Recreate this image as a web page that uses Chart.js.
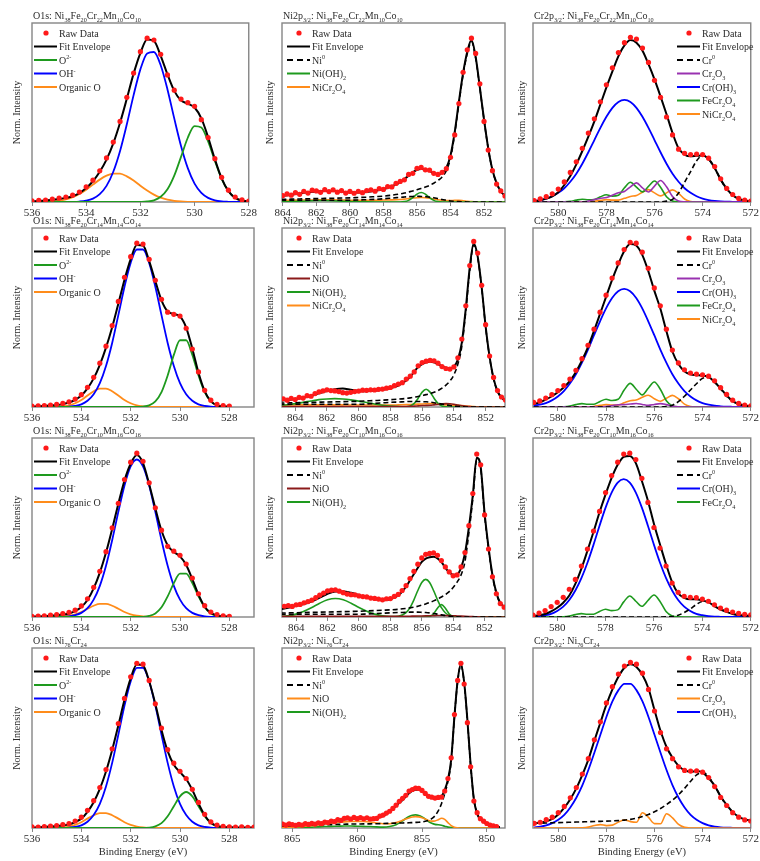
<!DOCTYPE html>
<html>
<head>
<meta charset="utf-8">
<script src="https://cdn.jsdelivr.net/npm/chart.js@4.4.1/dist/chart.umd.min.js"></script>
<style>
  html, body { margin: 0; padding: 0; background: #fff; }
  #fig { position: relative; width: 760px; height: 861px; overflow: hidden; background: #fff; }
  #fig canvas { position: absolute; }
</style>
</head>
<body>
<div id="fig"></div>
<script>
// ---- energy grids (eV) ----
const o1sE = [536, 535.75, 535.5, 535.25, 535, 534.75, 534.5, 534.25, 534, 533.75, 533.5, 533.25, 533, 532.75, 532.5, 532.25, 532, 531.75, 531.5, 531.25, 531, 530.75, 530.5, 530.25, 530, 529.75, 529.5, 529.25, 529, 528.75, 528.5, 528.25, 528, 527.75, 527.5, 527.25, 527];
const cr2pE = [581, 580.75, 580.5, 580.25, 580, 579.75, 579.5, 579.25, 579, 578.75, 578.5, 578.25, 578, 577.75, 577.5, 577.25, 577, 576.75, 576.5, 576.25, 576, 575.75, 575.5, 575.25, 575, 574.75, 574.5, 574.25, 574, 573.75, 573.5, 573.25, 573, 572.75, 572.5, 572.25, 572];
const ni2pE = [866, 865.5, 865, 864.5, 864, 863.5, 863, 862.5, 862, 861.5, 861, 860.5, 860, 859.5, 859, 858.5, 858, 857.5, 857, 856.75, 856.5, 856.25, 856, 855.75, 855.5, 855.25, 855, 854.75, 854.5, 854.25, 854, 853.75, 853.5, 853.25, 853, 852.75, 852.5, 852.25, 852, 851.75, 851.5, 851.25, 851, 850.75, 850.5, 850, 849.5, 849];
const ni2pRawE = [865.75, 865.5, 865.25, 865, 864.75, 864.5, 864.25, 864, 863.75, 863.5, 863.25, 863, 862.75, 862.5, 862.25, 862, 861.75, 861.5, 861.25, 861, 860.75, 860.5, 860.25, 860, 859.75, 859.5, 859.25, 859, 858.75, 858.5, 858.25, 858, 857.75, 857.5, 857.25, 857, 856.75, 856.5, 856.25, 856, 855.75, 855.5, 855.25, 855, 854.75, 854.5, 854.25, 854, 853.75, 853.5, 853.25, 853, 852.75, 852.5, 852.25, 852, 851.75, 851.5, 851.25, 851, 850.75, 850.5, 850.25, 850, 849.75, 849.5, 849.25];

// ---- O1s (norm. intensity, % of frame height) ----
const o1Raw1 = [0.6, 0.9, 1.1, 1.6, 2.2, 2.8, 3.8, 5.6, 8.4, 12.2, 17.4, 24.6, 33.5, 45.0, 58.5, 72.0, 84.0, 91.5, 90.5, 82.5, 71.0, 62.5, 57.5, 55.5, 53.5, 46.0, 36.0, 24.2, 13.8, 6.6, 2.8, 1.2, 0.5];
const o1Fit1 = [0.4, 0.6, 0.9, 1.3, 1.7, 2.3, 3.2, 5.0, 7.8, 11.6, 16.9, 23.7, 32.8, 44.3, 57.7, 71.7, 83.2, 90.8, 90.0, 81.7, 71.3, 62.1, 56.8, 54.9, 52.8, 46.7, 36.2, 23.9, 13.2, 6.1, 2.3, 0.8, 0.3];
const o1O2m1 = [0, 0, 0, 0, 0, 0, 0, 0, 0, 0, 0, 0, 0, 0, 0, 0, 0.06, 0.27, 0.96, 2.9, 7.1, 14.7, 25.2, 35.9, 42.4, 41.6, 33.9, 23.0, 12.9, 6.0, 2.3, 0.75, 0.2];
const o1OH1 = [0, 0, 0, 0, 0.01, 0.02, 0.08, 0.26, 0.75, 1.9, 4.4, 9.0, 16.9, 28.5, 43.4, 59.7, 74.1, 83.0, 83.8, 76.4, 62.9, 46.7, 31.3, 18.9, 10.3, 5.1, 2.3, 0.9, 0.3, 0.1, 0, 0, 0];
const o1Org1 = [0.02, 0.06, 0.15, 0.35, 0.76, 1.5, 2.7, 4.5, 6.9, 9.7, 12.5, 14.7, 15.9, 15.8, 14.3, 12.0, 9.1, 6.4, 4.1, 2.4, 1.3, 0.65, 0.3, 0.12, 0.05, 0, 0, 0, 0, 0, 0, 0, 0];

const o1Raw2 = [0.5, 0.6, 0.8, 1.1, 1.5, 2.0, 2.9, 4.4, 6.9, 11.0, 16.6, 24.5, 34.0, 45.5, 59.0, 72.5, 84.0, 91.5, 91.0, 82.5, 70.8, 60.2, 53.0, 51.8, 50.8, 44.0, 32.4, 19.6, 9.3, 3.8, 1.5, 0.8, 0.5];
const o1Fit2 = [0.3, 0.4, 0.6, 0.8, 1.1, 1.6, 2.5, 4.0, 6.4, 10.4, 16.0, 23.6, 33.2, 44.6, 57.7, 71.1, 82.6, 90.5, 90.2, 81.5, 70.3, 59.6, 53.4, 52.0, 50.6, 44.4, 32.6, 19.1, 8.9, 3.3, 0.9, 0.4, 0.3];
const o1O2m2 = [0, 0, 0, 0, 0, 0, 0, 0, 0, 0, 0, 0, 0, 0, 0, 0, 0, 0, 0.2, 0.9, 3.1, 8.3, 17.6, 29.1, 37.3, 37.3, 29.1, 17.6, 8.3, 3.1, 0.9, 0.2, 0];
const o1OH2 = [0, 0, 0, 0, 0, 0.05, 0.2, 0.6, 1.5, 3.5, 7.1, 13.3, 22.9, 35.8, 51.3, 67.2, 80.5, 88.0, 88.0, 80.5, 67.2, 51.3, 35.8, 22.9, 13.3, 7.1, 3.5, 1.5, 0.6, 0.2, 0.05, 0, 0];
const o1Org2 = [0, 0, 0, 0.05, 0.1, 0.4, 0.9, 2.1, 3.9, 6.4, 8.8, 10.3, 10.3, 8.8, 6.4, 3.9, 2.1, 0.9, 0.4, 0.1, 0, 0, 0, 0, 0, 0, 0, 0, 0, 0, 0, 0, 0];

const o1Raw3 = [0.4, 0.5, 0.7, 1.0, 1.4, 1.9, 2.6, 3.8, 6.2, 10.2, 16.6, 25.5, 36.5, 49.8, 63.5, 76.8, 86.5, 91.5, 87.0, 75.0, 61.0, 48.5, 39.5, 36.8, 34.5, 29.6, 21.8, 13.0, 6.3, 2.8, 1.4, 0.7, 0.4];
const o1Fit3 = [0.2, 0.3, 0.5, 0.7, 1.0, 1.4, 2.0, 3.3, 5.6, 9.5, 16.0, 24.8, 36.0, 49.2, 63.3, 76.3, 85.6, 90.5, 86.0, 74.2, 60.7, 48.3, 40.1, 36.3, 33.9, 29.1, 21.2, 12.5, 5.75, 2.3, 0.9, 0.4, 0.3];
const o1O2m3 = [0, 0, 0, 0, 0, 0, 0, 0, 0, 0, 0, 0, 0, 0, 0, 0, 0, 0, 0.1, 0.6, 2.0, 5.4, 11.5, 18.9, 24.2, 24.2, 18.9, 11.5, 5.4, 2.0, 0.6, 0.1, 0];
const o1OH3 = [0, 0, 0, 0, 0, 0.05, 0.35, 1.0, 2.3, 4.9, 9.7, 17.4, 28.6, 42.9, 58.7, 73.5, 84.1, 88.0, 84.1, 73.5, 58.7, 42.9, 28.6, 17.4, 9.7, 4.9, 2.3, 1.0, 0.35, 0.1, 0, 0, 0];
const o1Org3 = [0, 0, 0, 0.03, 0.1, 0.3, 0.7, 1.5, 2.8, 4.6, 6.3, 7.35, 7.35, 6.3, 4.6, 2.8, 1.5, 0.7, 0.3, 0.1, 0, 0, 0, 0, 0, 0, 0, 0, 0, 0, 0, 0, 0];

const o1Raw4 = [0.6, 0.5, 0.8, 1.0, 1.4, 1.9, 2.5, 3.9, 6.0, 9.8, 15.2, 22.5, 32.5, 44.0, 58.0, 72.0, 84.0, 91.5, 91.0, 82.0, 69.0, 55.5, 43.5, 36.0, 31.5, 27.5, 21.5, 14.2, 7.6, 3.4, 1.6, 0.9, 0.6, 0.5, 0.7, 0.4, 0.5];
const o1Fit4 = [0.3, 0.4, 0.6, 0.8, 1.1, 1.4, 2.0, 3.3, 5.2, 9.0, 14.3, 21.7, 31.4, 43.3, 57.0, 71.2, 83.1, 90.8, 90.3, 81.5, 68.9, 54.5, 42.7, 35.2, 31.0, 27.2, 21.1, 13.6, 7.1, 2.9, 1.1, 0.5, 0.4, 0.3, 0.3, 0.3, 0.3];
const o1O2m4 = [0, 0, 0, 0, 0, 0, 0, 0, 0, 0, 0, 0, 0, 0, 0, 0, 0, 0, 0, 0.2, 0.9, 2.7, 6.5, 12.1, 17.6, 20.0, 17.6, 12.1, 6.5, 2.7, 0.9, 0.2, 0, 0, 0, 0, 0];
const o1OH4 = [0, 0, 0, 0, 0, 0.05, 0.2, 0.6, 1.5, 3.5, 7.2, 13.4, 23.1, 36.2, 51.8, 68.0, 81.4, 89.0, 89.0, 81.4, 68.0, 51.8, 36.2, 23.1, 13.4, 7.2, 3.5, 1.5, 0.6, 0.2, 0.05, 0, 0, 0, 0, 0, 0];
const o1Org4 = [0, 0, 0, 0.03, 0.1, 0.3, 0.8, 1.7, 3.2, 5.2, 7.1, 8.3, 8.3, 7.1, 5.2, 3.2, 1.7, 0.8, 0.3, 0.1, 0, 0, 0, 0, 0, 0, 0, 0, 0, 0, 0, 0, 0, 0, 0, 0, 0];

// ---- Ni2p3/2 ----
const niRaw1 = [null, null, null, null, null, null, null, 3.6, 4.5, 3.8, 5.2, 4.3, 6.0, 5.0, 6.6, 6.2, 5.4, 6.9, 5.8, 6.8, 5.5, 6.4, 5.0, 5.9, 4.9, 6.0, 5.2, 6.4, 6.8, 6.0, 7.5, 7.0, 8.6, 8.4, 10.4, 11.5, 12.4, 15.4, 16.0, 18.8, 19.3, 18.0, 17.8, 16.0, 15.4, 16.6, 18.6, 25, 37.5, 55, 72.5, 85, 91.5, 83, 66, 45, 29, 17.5, 10, 6.2, 3.4, null, null, null, null, null, null];
const niFit1 = [3.0, 3.1, 3.2, 3.3, 3.4, 4.0, 4.8, 5.4, 5.8, 6.1, 6.2, 5.8, 5.4, 5.3, 5.6, 6.3, 7.2, 8.8, 11.0, 12.8, 14.7, 16.5, 18.0, 18.5, 18.3, 17.3, 16.2, 15.6, 16.2, 19, 26, 39, 56, 72, 84, 90.5, 81, 64, 46, 30, 18, 10.5, 6, 3.5, 2.2, 1, 0.5, 0.3];
const niNi0_1 = [1.4, 1.4, 1.5, 1.5, 1.5, 1.6, 1.7, 1.8, 1.9, 2.0, 2.1, 2.2, 2.3, 2.5, 2.7, 3.0, 3.3, 3.8, 4.5, 5.0, 5.6, 6.2, 6.9, 7.6, 8.4, 9.3, 10.5, 12.0, 14.0, 17.5, 24.5, 38, 55, 71, 83, 89.5, 80.5, 63.5, 45.8, 29.8, 17.9, 10.4, 5.9, 3.4, 2.1, 1, 0.5, 0.3];
const niSat1 = [1.0, 1.0, 1.0, 1.0, 1.0, 1.0, 1.0, 1.0, 1.0, 1.0, 1.0, 1.0, 1.0, 1.1, 1.3, 1.5, 1.8, 2.2, 2.6, 2.8, 3.0, 3.1, 3.2, 3.1, 3.0, 2.7, 2.4, 1.9, 1.4, 1.0, 0.6, 0.4, 0.2, 0.1, 0, 0, 0, 0, 0, 0, 0, 0, 0, 0, 0, 0, 0, 0];
const niOH1 = [0, 0, 0, 0, 0.1, 0.2, 0.4, 0.6, 0.8, 0.8, 0.7, 0.5, 0.3, 0.15, 0.05, 0, 0, 0, 0, 0.2, 0.9, 2.4, 4.4, 5.3, 4.4, 2.4, 0.9, 0.2, 0, 0, 0, 0, 0, 0, 0, 0, 0, 0, 0, 0, 0, 0, 0, 0, 0, 0, 0, 0];
const niCrO1 = [0.8, 0.8, 0.9, 0.9, 1.0, 1.0, 1.1, 1.1, 1.2, 1.2, 1.2, 1.1, 1.0, 1.0, 1.0, 1.0, 1.1, 1.2, 1.4, 1.6, 1.9, 2.2, 2.4, 2.5, 2.4, 2.1, 1.7, 1.3, 1.0, 0.8, 0.8, 0.9, 0.9, 0.7, 0.4, 0.2, 0.1, 0, 0, 0, 0, 0, 0, 0, 0, 0, 0, 0];

const niRaw2 = [null, null, null, null, 4.6, 3.8, 4.9, 4.2, 5.4, 5.0, 6.3, 6.0, 7.5, 8.4, 9.0, 9.6, 9.2, 9.0, 8.6, 8.0, 7.8, 8.2, 8.6, 8.9, 9.4, 9.3, 9.6, 9.5, 9.9, 10.0, 10.5, 10.9, 11.9, 12.8, 13.6, 15.6, 17.2, 19.6, 23.0, 24.8, 25.6, 26.0, 25.8, 24.5, 22.6, 21.5, 21.2, 22.4, 27.5, 38, 56.5, 79, 92.5, 86, 68, 46, 28.5, 16.5, 9.2, 5.6, 3.8, null, null, null, null, null, null];
const niFit2 = [3.0, 3.2, 3.5, 3.9, 4.5, 5.2, 6.3, 7.6, 8.9, 9.9, 10.3, 9.6, 9.0, 8.8, 9.1, 9.6, 10.5, 12.0, 14.8, 16.8, 19.8, 22.3, 24.0, 25.0, 25.3, 25.0, 24.0, 22.8, 21.8, 21.5, 22.5, 26.5, 36, 55, 78, 91.5, 84, 67, 45, 28, 16, 8.8, 5.3, 3.6, 2.6, 1.5, 0.8, 0.5];
const niNi0_2 = [2.0, 2.1, 2.2, 2.3, 2.4, 2.5, 2.6, 2.7, 2.8, 2.9, 3.0, 3.1, 3.2, 3.4, 3.6, 3.8, 4.1, 4.4, 4.8, 5.1, 5.5, 5.9, 6.4, 6.9, 7.5, 8.2, 9.2, 10.5, 12.2, 14.5, 18, 24, 34, 53.5, 76.5, 90.5, 83.3, 66.5, 44.6, 27.7, 15.8, 8.7, 5.2, 3.5, 2.5, 1.4, 0.8, 0.5];
const niSat2 = [1.5, 1.5, 1.5, 1.5, 1.5, 1.5, 1.5, 1.5, 1.5, 1.5, 1.5, 1.5, 1.5, 1.7, 2.0, 2.3, 2.6, 2.8, 3.0, 3.1, 3.1, 3.1, 3.0, 2.9, 2.7, 2.4, 2.0, 1.6, 1.2, 0.8, 0.5, 0.3, 0.1, 0, 0, 0, 0, 0, 0, 0, 0, 0, 0, 0, 0, 0, 0, 0];
const niNiO2 = [0.3, 0.3, 0.3, 0.3, 0.3, 0.3, 0.3, 0.3, 0.3, 0.3, 0.3, 0.3, 0.3, 0.3, 0.3, 0.3, 0.3, 0.3, 0.3, 0.4, 0.5, 0.65, 0.8, 0.9, 1.0, 1.2, 1.4, 1.7, 1.9, 1.8, 1.5, 1.1, 0.7, 0.4, 0.2, 0, 0, 0, 0, 0, 0, 0, 0, 0, 0, 0, 0, 0];
const niOH2 = [0.4, 0.6, 0.9, 1.3, 1.9, 2.6, 3.4, 4.1, 4.5, 4.7, 4.5, 4.0, 3.3, 2.5, 1.7, 1.0, 0.5, 0.2, 0.1, 0.6, 2.0, 4.9, 8.3, 9.9, 8.3, 4.9, 2.0, 0.6, 0.1, 0, 0, 0, 0, 0, 0, 0, 0, 0, 0, 0, 0, 0, 0, 0, 0, 0, 0, 0];
const niCrO2 = [1.0, 1.0, 1.1, 1.1, 1.2, 1.2, 1.2, 1.2, 1.2, 1.2, 1.2, 1.1, 1.1, 1.1, 1.1, 1.1, 1.1, 1.2, 1.3, 1.4, 1.5, 1.6, 1.7, 1.8, 1.9, 1.8, 1.6, 1.4, 1.2, 1.1, 1.0, 0.9, 0.8, 0.6, 0.4, 0.2, 0.1, 0, 0, 0, 0, 0, 0, 0, 0, 0, 0, 0];

const niRaw3 = [null, null, null, null, 6.0, 6.4, 5.9, 6.8, 7.0, 7.9, 8.6, 9.4, 10.8, 12.2, 13.4, 14.6, 15.0, 15.2, 14.4, 13.6, 12.8, 12.5, 12.4, 11.8, 11.4, 11.2, 10.6, 10.4, 10.0, 9.6, 10.2, 10.3, 11.5, 12.6, 14.8, 17.5, 21.5, 25.5, 29.5, 33.0, 35.0, 35.5, 35.8, 34.5, 31.5, 28.0, 25.2, 23.0, 23.5, 28, 36, 51, 69, 91, 85, 57, 38, 22.5, 13, 7.5, 5.5, null, null, null, null, null, null];
const niFit3 = [3.5, 3.9, 4.4, 5.1, 6.2, 7.3, 8.8, 10.8, 13.0, 14.3, 14.3, 13.5, 12.2, 11.0, 10.0, 9.4, 9.9, 12.0, 17.0, 20.5, 24.0, 27.5, 30.8, 32.6, 33.4, 33.6, 32.8, 30.8, 27.5, 25.0, 23.6, 23.8, 27.5, 35.5, 50, 68, 89, 84, 58, 39, 23.5, 13.5, 7.8, 5.8, 4.2, 2.5, 1.5, 1.0];
const niNi0_3 = [2.0, 2.1, 2.2, 2.3, 2.4, 2.5, 2.6, 2.7, 2.8, 2.9, 3.0, 3.1, 3.2, 3.4, 3.6, 3.8, 4.0, 4.3, 4.8, 5.1, 5.5, 6.0, 6.6, 7.3, 8.1, 9.0, 10.0, 11.2, 12.5, 14.2, 16.5, 19.5, 23.5, 31, 47, 66, 87.5, 83, 57, 38.2, 23, 13.2, 7.6, 5.6, 4.1, 2.4, 1.4, 0.9];
const niSat3 = [1.5, 1.5, 1.5, 1.5, 1.5, 1.5, 1.5, 1.5, 1.5, 1.5, 1.5, 1.5, 1.5, 1.7, 1.9, 2.1, 2.3, 2.5, 2.6, 2.7, 2.7, 2.7, 2.6, 2.5, 2.3, 2.0, 1.6, 1.2, 0.8, 0.5, 0.3, 0.1, 0, 0, 0, 0, 0, 0, 0, 0, 0, 0, 0, 0, 0, 0, 0, 0];
const niNiO3 = [0.4, 0.4, 0.4, 0.4, 0.4, 0.4, 0.4, 0.4, 0.4, 0.4, 0.4, 0.4, 0.4, 0.4, 0.4, 0.4, 0.4, 0.4, 0.4, 0.45, 0.5, 0.55, 0.6, 0.65, 0.7, 0.75, 0.8, 0.8, 0.8, 0.75, 0.7, 0.6, 0.5, 0.4, 0.3, 0.2, 0.1, 0, 0, 0, 0, 0, 0, 0, 0, 0, 0, 0];
const niOH3 = [0, 0.1, 0.3, 0.7, 1.6, 3.2, 5.3, 7.7, 9.6, 10.3, 9.6, 7.7, 5.3, 3.2, 1.6, 0.7, 0.3, 0.4, 2.4, 5.2, 9.6, 14.8, 19.3, 21, 19.3, 14.8, 9.6, 5.2, 2.4, 0.9, 0.3, 0.1, 0, 0, 0, 0, 0, 0, 0, 0, 0, 0, 0, 0, 0, 0, 0, 0];
const niOHb3 = [0, 0, 0, 0, 0, 0, 0, 0, 0, 0, 0, 0, 0, 0, 0, 0, 0, 0, 0, 0, 0, 0, 0, 0, 0.3, 1.7, 4.9, 6.9, 4.9, 1.7, 0.3, 0, 0, 0, 0, 0, 0, 0, 0, 0, 0, 0, 0, 0, 0, 0, 0, 0];

const niRaw4 = [2.2, 1.6, 2.3, 1.9, 1.5, 2.0, 1.6, 2.4, 2.0, 2.6, 2.2, 2.9, 2.4, 3.3, 3.0, 3.9, 3.5, 4.6, 4.2, 5.4, 5.6, 5.0, 5.9, 5.2, 5.8, 5.1, 5.7, 5.0, 5.2, 5.3, 6.6, 7.2, 8.3, 9.3, 10.9, 12.7, 14.8, 16.5, 18.2, 20.5, 21.4, 22.2, 22.0, 20.9, 19.2, 17.6, 17.1, 16.6, 17.0, 17.2, 20.5, 27.5, 39, 63, 82, 91.5, 80, 58.5, 34, 15, 8.5, 5.2, 3.8, 2.5, 1.6, 1.2, 0.8];
const niFit4 = [1.2, 1.4, 1.7, 1.8, 2.0, 2.2, 2.5, 2.9, 3.3, 4.0, 4.8, 5.1, 5.4, 5.4, 5.4, 5.6, 6.6, 9.0, 12.3, 14.0, 15.5, 17.5, 19.3, 20.6, 21.3, 21.2, 20.3, 19.0, 17.8, 17.0, 16.8, 16.8, 17.5, 21, 27, 38, 62, 82, 91, 81, 60, 35, 16, 8, 5, 2.2, 0.9, 0.5];
const niNi0_4 = [1.2, 1.2, 1.3, 1.4, 1.5, 1.6, 1.7, 1.8, 1.9, 2.0, 2.1, 2.2, 2.2, 2.3, 2.3, 2.4, 2.5, 2.6, 2.7, 2.8, 2.8, 2.85, 2.9, 3.0, 3.1, 3.2, 3.4, 3.7, 4.2, 5.2, 6.8, 9.5, 13.5, 19, 26, 37, 61.5, 81.5, 90.5, 80.5, 59.8, 34.8, 15.9, 7.9, 4.9, 2.1, 0.9, 0.5];
const niNiO4 = [0.3, 0.4, 0.5, 0.7, 1.0, 1.3, 1.7, 2.2, 2.7, 3.1, 3.4, 3.6, 3.7, 3.6, 3.3, 2.8, 2.4, 2.4, 3.0, 3.6, 4.3, 5.0, 5.6, 6.1, 6.3, 6.2, 5.7, 5.0, 4.2, 3.8, 3.9, 4.6, 5.4, 4.8, 3.0, 1.3, 0.4, 0.1, 0, 0, 0, 0, 0, 0, 0, 0, 0, 0];
const niOH4 = [0.2, 0.2, 0.3, 0.3, 0.4, 0.5, 0.6, 0.8, 0.9, 1.0, 1.1, 1.1, 1.0, 0.9, 0.8, 0.6, 0.5, 0.8, 1.8, 2.8, 4.0, 5.3, 6.4, 7.1, 7.3, 7.0, 6.2, 5.0, 3.6, 2.6, 2.0, 1.8, 1.5, 1.0, 0.5, 0.2, 0.1, 0, 0, 0, 0, 0, 0, 0, 0, 0, 0, 0];

// ---- Cr2p3/2 ----
const crRaw1 = [0.8, 1.8, 3.0, 4.6, 7.2, 11.2, 16.5, 22.5, 30.0, 38.5, 46.5, 56.0, 65.5, 75.0, 83.5, 89.0, 92.0, 91.0, 86.0, 78.0, 68.0, 58.5, 47.5, 37.5, 29.5, 27.2, 26.5, 26.8, 26.5, 24.5, 19.8, 13.0, 7.6, 4.2, 2.0, 1.0, 0.5];
const crFit1 = [0.4, 0.9, 1.9, 3.2, 5.5, 9.5, 14.5, 21, 28.5, 36.5, 45, 54.5, 64, 73, 81.5, 87.5, 90.5, 89, 84.5, 77, 68.5, 59, 49, 38.5, 30, 26.5, 25.5, 25.8, 26, 24, 19, 12.5, 7.5, 3.8, 1.8, 0.8, 0.4];
const crCr0_1 = [0, 0, 0, 0, 0, 0, 0, 0, 0, 0, 0, 0, 0, 0, 0, 0, 0, 0, 0, 0, 0, 0, 0.5, 1.5, 5, 11, 17, 23, 26, 24, 19, 12.5, 7, 3.8, 1.8, 0.7, 0.3];
const crCr2O3_1 = [0, 0, 0, 0, 0, 0, 0, 0, 0, 0.47, 1.34, 2.1, 2.5, 3.8, 5.2, 5.9, 8.5, 10.7, 7.9, 5.6, 8.9, 12, 8.5, 3.0, 0.5, 0.05, 0, 0, 0, 0, 0, 0, 0, 0, 0, 0, 0];
const crOH1 = [0.6, 1.1, 1.9, 3.2, 5.1, 7.7, 11.3, 15.8, 21.4, 27.8, 34.6, 41.4, 47.6, 52.6, 55.9, 57, 55.9, 52.6, 47.6, 41.4, 34.6, 27.8, 21.4, 15.8, 11.3, 7.7, 5.1, 3.2, 1.9, 1.1, 0.6, 0.3, 0.2, 0.1, 0, 0, 0];
const crFe1 = [0, 0, 0, 0, 0, 0.07, 0.37, 1.06, 1.5, 1.24, 1.37, 2.9, 4.05, 3.3, 3.74, 7.96, 11.05, 8.3, 5.65, 8.75, 11.7, 8.27, 2.91, 0.51, 0.05, 0, 0, 0, 0, 0, 0, 0, 0, 0, 0, 0, 0];
const crNi1 = [0, 0, 0, 0, 0, 0, 0, 0, 0, 0, 0.32, 0.92, 1.3, 1.04, 1.02, 2.04, 3.1, 3.67, 5.5, 6.9, 5.1, 3.4, 5.1, 6.8, 4.81, 1.69, 0.3, 0.03, 0, 0, 0, 0, 0, 0, 0, 0, 0];

const crRaw2 = [2.6, 3.4, 5.0, 6.9, 9.2, 12.0, 15.6, 20.5, 27.0, 34.5, 43.5, 53.0, 62.5, 72.0, 80.5, 88.0, 92.0, 91.5, 86.5, 77.5, 66.5, 56.5, 43.5, 31.8, 24.6, 20.8, 19.0, 18.4, 18.0, 17.2, 14.6, 10.8, 7.0, 3.8, 2.0, 1.1, 0.6];
const crFit2 = [1.7, 2.6, 4.2, 6, 8.2, 11, 14.6, 19.6, 26, 33.5, 42.5, 52, 61.5, 71, 79.5, 87, 91, 90.2, 85, 76, 65, 55, 42.5, 31, 24, 20, 18.2, 17.8, 17.5, 16.8, 14, 10.3, 6.5, 3.3, 1.7, 0.8, 0.4];
const crCr0_2 = [0, 0, 0, 0, 0, 0, 0, 0, 0, 0, 0, 0, 0, 0, 0, 0, 0, 0, 0, 0, 0, 0, 0.3, 1, 3, 6, 9.5, 13, 16, 16.5, 14, 10, 6, 3.2, 1.6, 0.8, 0.4];
const crCr2O3_2 = [0, 0, 0, 0, 0, 0, 0, 0, 0, 0, 0, 0.05, 0.3, 0.85, 1.28, 1.32, 1.64, 1.95, 1.42, 0.94, 1.42, 1.9, 1.34, 0.47, 0.08, 0, 0, 0, 0, 0, 0, 0, 0, 0, 0, 0, 0];
const crOH2 = [0.7, 1.3, 2.2, 3.7, 5.9, 8.9, 13.1, 18.3, 24.8, 32.1, 40.1, 47.9, 55.1, 60.9, 64.7, 66, 64.7, 60.9, 55.1, 47.9, 40.1, 32.1, 24.8, 18.3, 13.1, 8.9, 5.9, 3.7, 2.2, 1.3, 0.7, 0.4, 0.2, 0.1, 0, 0, 0];
const crFe2 = [0, 0, 0, 0, 0, 0.08, 0.47, 1.34, 1.9, 1.53, 1.54, 3.1, 4.35, 3.6, 4.3, 9.45, 13.2, 9.9, 6.75, 10.5, 14, 9.9, 3.49, 0.62, 0.06, 0, 0, 0, 0, 0, 0, 0, 0, 0, 0, 0, 0];
const crNi2 = [0, 0, 0, 0, 0, 0, 0, 0, 0, 0, 0.32, 0.92, 1.3, 1.06, 1.12, 2.32, 3.5, 3.9, 5.4, 6.6, 4.6, 3.24, 4.9, 6.5, 4.6, 1.62, 0.29, 0.03, 0, 0, 0, 0, 0, 0, 0, 0, 0];

const crRaw3 = [1.0, 2.2, 3.6, 5.8, 8.2, 11.0, 15.5, 21.0, 28.5, 38.0, 48.0, 59.0, 69.5, 79.0, 86.5, 91.0, 91.5, 88.0, 77.5, 64.0, 50.0, 38.5, 28.5, 19.0, 13.8, 11.6, 11.0, 10.8, 10.0, 8.8, 6.8, 5.0, 3.8, 2.8, 2.0, 1.5, 1.2];
const crFit3 = [0.5, 1.0, 1.7, 3.2, 5.2, 8, 12, 18.5, 27, 37, 47.5, 58.5, 68.5, 77.7, 85, 89.5, 90, 86, 76, 65, 52, 40.5, 29.4, 19.5, 13.2, 10.7, 9.9, 9.9, 9.2, 8.3, 6.1, 4.2, 2.9, 1.7, 1.1, 0.8, 0.6];
const crCr0_3 = [0, 0, 0, 0, 0, 0, 0, 0, 0, 0, 0, 0, 0, 0, 0, 0, 0, 0, 0, 0, 0, 0, 0.1, 0.3, 1, 2.5, 4.5, 7, 8.7, 8.5, 6.5, 4.5, 3, 1.8, 1.1, 0.7, 0.5];
const crOH3 = [0.2, 0.5, 1.0, 1.8, 3.4, 5.8, 9.5, 14.8, 21.7, 30.3, 40.3, 51.0, 61.1, 69.5, 75.1, 77, 75.1, 69.5, 61.1, 51.0, 40.3, 30.3, 21.7, 14.8, 9.5, 5.8, 3.4, 1.8, 1.0, 0.5, 0.2, 0.1, 0, 0, 0, 0, 0];
const crFe3 = [0, 0, 0, 0, 0, 0.08, 0.47, 1.34, 1.9, 1.53, 1.54, 3.1, 4.35, 3.55, 3.98, 8.46, 11.75, 8.8, 5.97, 9.2, 12.3, 8.7, 3.06, 0.54, 0.05, 0, 0, 0, 0, 0, 0, 0, 0, 0, 0, 0, 0];

const crRaw4 = [2.6, 3.2, 4.6, 6.0, 8.5, 12.0, 16.8, 22.5, 30.0, 38.5, 49.0, 59.0, 69.5, 78.5, 85.5, 90.0, 92.0, 91.0, 86.0, 77.0, 65.0, 53.0, 44.0, 38.5, 34.0, 32.0, 31.6, 31.8, 31.0, 28.0, 23.0, 17.0, 12.5, 8.5, 6.0, 4.5, 3.9];
const crFit4 = [2.5, 3.0, 3.7, 5.0, 7.5, 11.3, 16, 22, 29.5, 38, 48.5, 58.5, 68.5, 77, 84, 89, 91, 89.5, 85, 77.5, 65.5, 54, 45, 39, 34.5, 32, 31.3, 31.6, 30.8, 27.8, 23.5, 17.5, 12.8, 8.8, 6.2, 4.8, 4.1];
const crCr0_4 = [2.6, 2.7, 2.8, 2.9, 3.0, 3.1, 3.2, 3.3, 3.4, 3.5, 3.6, 3.7, 3.8, 3.95, 4.1, 4.4, 4.8, 5.5, 6.4, 7.5, 9, 10.8, 13, 15.5, 18.5, 22, 26, 29.5, 31, 28.5, 23.5, 17.5, 12.5, 8.8, 6.3, 4.8, 4.1];
const crCr2O3_4 = [0, 0, 0, 0, 0, 0, 0, 0, 0.08, 0.47, 1.34, 1.9, 1.34, 1.59, 3.26, 4.53, 3.55, 3.19, 8.5, 5.9, 2.42, 2.34, 7.93, 5.59, 1.97, 0.35, 0.03, 0, 0, 0, 0, 0, 0, 0, 0, 0, 0];
const crOH4 = [0.4, 0.8, 1.5, 2.7, 4.6, 7.3, 11.4, 16.8, 23.7, 32.2, 41.8, 51.8, 61.7, 70.3, 76.6, 80.1, 80.1, 76.6, 70.3, 61.7, 51.8, 41.8, 32.2, 23.7, 16.8, 11.4, 7.3, 4.6, 2.7, 1.5, 0.8, 0.4, 0.2, 0.1, 0, 0, 0];

// ---- styles ----
const FONT = '"Liberation Serif", "Times New Roman", serif';
const TXT = '#2b2b2b';
const RED = '#ff1a1a', BLUE = '#0000ff', GREEN = '#1e9a1e', ORANGE = '#ff8c1a', PURPLE = '#9932b0', BROWN = '#8b1a1a';

function pts(E, Y) { return Y.map((y, i) => ({ x: E[i], y: y })); }

function raw(E, Y) {
  return { data: pts(E, Y), showLine: false, pointRadius: 2.6, pointBackgroundColor: RED, pointBorderWidth: 0, borderColor: RED };
}
function curve(E, Y, color, width, dash) {
  return { data: pts(E, Y), borderColor: color, borderWidth: width, borderDash: dash || [], pointRadius: 0, cubicInterpolationMode: 'monotone', fill: false };
}
const DASH = [5, 3];

// text with _{sub} and ^{sup}
function richText(ctx, str, x, y, size, color) {
  const re = /([_^])\{([^}]*)\}/g;
  const parts = [];
  let last = 0, m;
  while ((m = re.exec(str))) {
    if (m.index > last) parts.push({ t: str.slice(last, m.index), k: '' });
    parts.push({ t: m[2], k: m[1] });
    last = re.lastIndex;
  }
  if (last < str.length) parts.push({ t: str.slice(last), k: '' });
  ctx.save();
  ctx.fillStyle = color;
  ctx.textAlign = 'left';
  ctx.textBaseline = 'alphabetic';
  for (const p of parts) {
    const fs = p.k ? size * 0.62 : size;
    ctx.font = fs + 'px ' + FONT;
    const dy = p.k === '_' ? size * 0.3 : (p.k === '^' ? -size * 0.42 : 0);
    ctx.fillText(p.t, x, y + dy);
    x += ctx.measureText(p.t).width;
  }
  ctx.restore();
}

const LEG_RAW = ['dot', RED, 'Raw Data'];
const LEG_FIT = ['line', '#000', 'Fit Envelope'];
const o1sLegend = [LEG_RAW, LEG_FIT, ['line', GREEN, 'O^{2-}'], ['line', BLUE, 'OH^{-}'], ['line', ORANGE, 'Organic O']];

// frame, panel title and legend
const decoPlugin = {
  id: 'deco',
  beforeDatasetsDraw(chart, args, o) {
    const a = chart.chartArea, ctx = chart.ctx;
    ctx.save();
    ctx.strokeStyle = '#858585';
    ctx.lineWidth = 1.4;
    ctx.strokeRect(a.left, a.top, a.right - a.left, a.bottom - a.top);
    ctx.restore();
  },
  afterDraw(chart, args, o) {
    const a = chart.chartArea, ctx = chart.ctx;
    richText(ctx, o.title, a.left + 1, a.top - 4.5, 10, TXT);
    const lx = o.legX - o.boxX;
    o.legend.forEach((e, i) => {
      const y = a.top + 10 + i * 13.5;
      ctx.save();
      if (e[0] === 'dot') {
        ctx.fillStyle = e[1];
        ctx.beginPath();
        ctx.arc(lx + 12, y, 2.6, 0, Math.PI * 2);
        ctx.fill();
      } else {
        ctx.strokeStyle = e[1];
        ctx.lineWidth = 2;
        ctx.setLineDash(e[0] === 'dash' ? [6, 4] : []);
        ctx.beginPath();
        ctx.moveTo(lx, y);
        ctx.lineTo(lx + 23, y);
        ctx.stroke();
      }
      ctx.restore();
      richText(ctx, e[2], lx + 25, y + 3.5, 10, TXT);
    });
  }
};

const C1 = { x: 0, w: 258, fl: 32, fr: 254, yPad: 11, legX: 34 };
const C2 = { x: 258, w: 252, fl: 282, fr: 505, yPad: 6, legX: 287 };
const C3 = { x: 510, w: 250, fl: 533, fr: 755, yPad: 6, legX: 677 };
const R1 = { y: 0, h: 220, ft: 23, fb: 202 };
const R2 = { y: 210, h: 220, ft: 228, fb: 407 };
const R3 = { y: 420, h: 220, ft: 438, fb: 617 };
const R4 = { y: 630, h: 231, ft: 648, fb: 828 };

const panels = [
  { c: C1, r: R1, xr: [528, 536, 2], title: 'O1s: Ni_{38}Fe_{20}Cr_{22}Mn_{10}Co_{10}', legend: o1sLegend,
    sets: [raw(o1sE, o1Raw1), curve(o1sE, o1Fit1, '#000', 2), curve(o1sE, o1O2m1, GREEN, 1.8), curve(o1sE, o1OH1, BLUE, 1.8), curve(o1sE, o1Org1, ORANGE, 1.8)] },
  { c: C2, r: R1, xr: [850.75, 864.05, 2], title: 'Ni2p_{3/2}: Ni_{38}Fe_{20}Cr_{22}Mn_{10}Co_{10}',
    legend: [LEG_RAW, LEG_FIT, ['dash', '#000', 'Ni^{0}'], ['line', GREEN, 'Ni(OH)_{2}'], ['line', ORANGE, 'NiCr_{2}O_{4}']],
    sets: [raw(ni2pRawE, niRaw1), curve(ni2pE, niFit1, '#000', 2), curve(ni2pE, niNi0_1, '#000', 1.6, DASH), curve(ni2pE, niSat1, '#000', 1.6, DASH), curve(ni2pE, niOH1, GREEN, 1.6), curve(ni2pE, niCrO1, ORANGE, 1.6)] },
  { c: C3, r: R1, xr: [572, 581.05, 2], title: 'Cr2p_{3/2}: Ni_{38}Fe_{20}Cr_{22}Mn_{10}Co_{10}',
    legend: [LEG_RAW, LEG_FIT, ['dash', '#000', 'Cr^{0}'], ['line', PURPLE, 'Cr_{2}O_{3}'], ['line', BLUE, 'Cr(OH)_{3}'], ['line', GREEN, 'FeCr_{2}O_{4}'], ['line', ORANGE, 'NiCr_{2}O_{4}']],
    sets: [raw(cr2pE, crRaw1), curve(cr2pE, crFit1, '#000', 2), curve(cr2pE, crCr0_1, '#000', 1.6, DASH), curve(cr2pE, crCr2O3_1, PURPLE, 1.6), curve(cr2pE, crOH1, BLUE, 1.8), curve(cr2pE, crFe1, GREEN, 1.6), curve(cr2pE, crNi1, ORANGE, 1.6)] },

  { c: C1, r: R2, xr: [527, 536, 2], title: 'O1s: Ni_{38}Fe_{20}Cr_{14}Mn_{14}Co_{14}', legend: o1sLegend,
    sets: [raw(o1sE, o1Raw2), curve(o1sE, o1Fit2, '#000', 2), curve(o1sE, o1O2m2, GREEN, 1.8), curve(o1sE, o1OH2, BLUE, 1.8), curve(o1sE, o1Org2, ORANGE, 1.8)] },
  { c: C2, r: R2, xr: [850.78, 864.83, 2], title: 'Ni2p_{3/2}: Ni_{38}Fe_{20}Cr_{14}Mn_{14}Co_{14}',
    legend: [LEG_RAW, LEG_FIT, ['dash', '#000', 'Ni^{0}'], ['line', BROWN, 'NiO'], ['line', GREEN, 'Ni(OH)_{2}'], ['line', ORANGE, 'NiCr_{2}O_{4}']],
    sets: [raw(ni2pRawE, niRaw2), curve(ni2pE, niFit2, '#000', 2), curve(ni2pE, niNi0_2, '#000', 1.6, DASH), curve(ni2pE, niSat2, '#000', 1.6, DASH), curve(ni2pE, niNiO2, BROWN, 1.6), curve(ni2pE, niOH2, GREEN, 1.6), curve(ni2pE, niCrO2, ORANGE, 1.6)] },
  { c: C3, r: R2, xr: [572, 581.03, 2], title: 'Cr2p_{3/2}: Ni_{38}Fe_{20}Cr_{14}Mn_{14}Co_{14}',
    legend: [LEG_RAW, LEG_FIT, ['dash', '#000', 'Cr^{0}'], ['line', PURPLE, 'Cr_{2}O_{3}'], ['line', BLUE, 'Cr(OH)_{3}'], ['line', GREEN, 'FeCr_{2}O_{4}'], ['line', ORANGE, 'NiCr_{2}O_{4}']],
    sets: [raw(cr2pE, crRaw2), curve(cr2pE, crFit2, '#000', 2), curve(cr2pE, crCr0_2, '#000', 1.6, DASH), curve(cr2pE, crCr2O3_2, PURPLE, 1.6), curve(cr2pE, crOH2, BLUE, 1.8), curve(cr2pE, crFe2, GREEN, 1.6), curve(cr2pE, crNi2, ORANGE, 1.6)] },

  { c: C1, r: R3, xr: [527, 536, 2], title: 'O1s: Ni_{38}Fe_{20}Cr_{10}Mn_{16}Co_{16}', legend: o1sLegend,
    sets: [raw(o1sE, o1Raw3), curve(o1sE, o1Fit3, '#000', 2), curve(o1sE, o1O2m3, GREEN, 1.8), curve(o1sE, o1OH3, BLUE, 1.8), curve(o1sE, o1Org3, ORANGE, 1.8)] },
  { c: C2, r: R3, xr: [850.7, 864.9, 2], title: 'Ni2p_{3/2}: Ni_{38}Fe_{20}Cr_{10}Mn_{16}Co_{16}',
    legend: [LEG_RAW, LEG_FIT, ['dash', '#000', 'Ni^{0}'], ['line', BROWN, 'NiO'], ['line', GREEN, 'Ni(OH)_{2}']],
    sets: [raw(ni2pRawE, niRaw3), curve(ni2pE, niFit3, '#000', 2), curve(ni2pE, niNi0_3, '#000', 1.6, DASH), curve(ni2pE, niSat3, '#000', 1.6, DASH), curve(ni2pE, niNiO3, BROWN, 1.6), curve(ni2pE, niOH3, GREEN, 1.6), curve(ni2pE, niOHb3, GREEN, 1.6)] },
  { c: C3, r: R3, xr: [572, 581, 2], title: 'Cr2p_{3/2}: Ni_{38}Fe_{20}Cr_{10}Mn_{16}Co_{16}',
    legend: [LEG_RAW, LEG_FIT, ['dash', '#000', 'Cr^{0}'], ['line', BLUE, 'Cr(OH)_{3}'], ['line', GREEN, 'FeCr_{2}O_{4}']],
    sets: [raw(cr2pE, crRaw3), curve(cr2pE, crFit3, '#000', 2), curve(cr2pE, crCr0_3, '#000', 1.6, DASH), curve(cr2pE, crOH3, BLUE, 1.8), curve(cr2pE, crFe3, GREEN, 1.6)] },

  { c: C1, r: R4, xr: [527, 536, 2], title: 'O1s: Ni_{76}Cr_{24}', legend: o1sLegend, xTitle: true,
    sets: [raw(o1sE, o1Raw4), curve(o1sE, o1Fit4, '#000', 2), curve(o1sE, o1O2m4, GREEN, 1.8), curve(o1sE, o1OH4, BLUE, 1.8), curve(o1sE, o1Org4, ORANGE, 1.8)] },
  { c: C2, r: R4, xr: [848.6, 865.8, 5], title: 'Ni2p_{3/2}: Ni_{76}Cr_{24}', xTitle: true,
    legend: [LEG_RAW, LEG_FIT, ['dash', '#000', 'Ni^{0}'], ['line', ORANGE, 'NiO'], ['line', GREEN, 'Ni(OH)_{2}']],
    sets: [raw(ni2pRawE, niRaw4), curve(ni2pE, niFit4, '#000', 2), curve(ni2pE, niNi0_4, '#000', 1.6, DASH), curve(ni2pE, niNiO4, ORANGE, 1.6), curve(ni2pE, niOH4, GREEN, 1.6)] },
  { c: C3, r: R4, xr: [572, 581.05, 2], title: 'Cr2p_{3/2}: Ni_{76}Cr_{24}', xTitle: true,
    legend: [LEG_RAW, LEG_FIT, ['dash', '#000', 'Cr^{0}'], ['line', ORANGE, 'Cr_{2}O_{3}'], ['line', BLUE, 'Cr(OH)_{3}']],
    sets: [raw(cr2pE, crRaw4), curve(cr2pE, crFit4, '#000', 2), curve(cr2pE, crCr0_4, '#000', 1.6, DASH), curve(cr2pE, crCr2O3_4, ORANGE, 1.6), curve(cr2pE, crOH4, BLUE, 1.8)] }
];

const fig = document.getElementById('fig');
panels.forEach(p => {
  const c = p.c, r = p.r;
  const cv = document.createElement('canvas');
  cv.width = c.w; cv.height = r.h;
  cv.style.left = c.x + 'px'; cv.style.top = r.y + 'px';
  cv.style.width = c.w + 'px'; cv.style.height = r.h + 'px';
  fig.appendChild(cv);

  const yW = c.fl - c.x;
  const xH = r.y + r.h - r.fb;
  new Chart(cv, {
    type: 'line',
    data: { datasets: p.sets },
    plugins: [decoPlugin],
    options: {
      responsive: false,
      animation: false,
      devicePixelRatio: 1,
      layout: { autoPadding: false, padding: { left: 0, top: r.ft - r.y, right: c.x + c.w - c.fr, bottom: 0 } },
      plugins: {
        legend: { display: false },
        tooltip: { enabled: false },
        deco: { title: p.title, legend: p.legend, legX: c.legX, boxX: c.x }
      },
      scales: {
        x: {
          type: 'linear', reverse: true, min: p.xr[0], max: p.xr[1],
          afterFit: s => { s.height = xH; },
          border: { display: false },
          grid: { drawOnChartArea: false, drawTicks: true, tickLength: 4, color: '#858585' },
          ticks: { stepSize: p.xr[2], includeBounds: false, autoSkip: false, maxRotation: 0, padding: 1, color: TXT, font: { family: FONT, size: 11 } },
          title: { display: !!p.xTitle, text: 'Binding Energy (eV)', color: TXT, font: { family: FONT, size: 10.5 }, padding: { top: 0, bottom: 2 } }
        },
        y: {
          min: 0, max: 100,
          afterFit: s => { s.width = yW; },
          border: { display: false },
          grid: { display: false },
          ticks: { display: false },
          title: { display: true, text: 'Norm. Intensity', color: TXT, font: { family: FONT, size: 10 }, padding: { top: c.yPad, bottom: 0 } }
        }
      }
    }
  });
});
</script>
</body>
</html>
